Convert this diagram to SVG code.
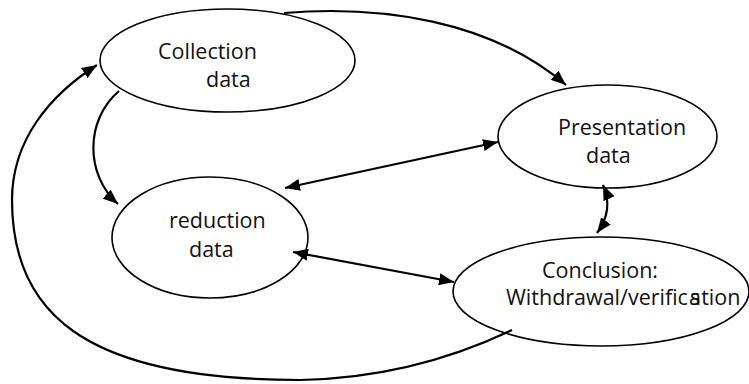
<svg xmlns="http://www.w3.org/2000/svg" width="749" height="384" viewBox="0 0 749 384">
<style>
.node ellipse{fill:none;stroke:#000;stroke-width:1.6}
.lbl{font-family:"Open Sans","Noto Sans",sans-serif;font-size:21.5px;fill:#111}
.conn path{fill:none;stroke:#000;stroke-width:2.2}
</style>
<defs>
<marker id="ah" markerUnits="userSpaceOnUse" markerWidth="15" markerHeight="12" refX="15" refY="6" orient="auto-start-reverse" viewBox="0 0 15 12">
<path d="M0,0 L15,6 L0,12 z" fill="#000"/>
</marker>
</defs>
<rect width="749" height="384" fill="#fff"/>
<g id="collection" class="node">
<ellipse cx="227.5" cy="60.5" rx="127.5" ry="51.5"/>
<text class="lbl" x="158" y="59">Collection</text>
<text class="lbl" x="206" y="87">data</text>
</g>
<g id="presentation" class="node">
<ellipse cx="607.5" cy="136.5" rx="109.5" ry="51.5"/>
<text class="lbl" x="558" y="135">Presentation</text>
<text class="lbl" x="586" y="163">data</text>
</g>
<g id="reduction" class="node">
<ellipse cx="210" cy="237.5" rx="98" ry="60.5"/>
<text class="lbl" x="169" y="228">reduction</text>
<text class="lbl" x="189" y="257">data</text>
</g>
<g id="conclusion" class="node">
<ellipse cx="601" cy="291.5" rx="148" ry="54.5"/>
<text class="lbl" x="542" y="278">Conclusion:</text>
<text class="lbl" x="506" y="305">Withdrawal/verific<tspan dx="1">a</tspan><tspan dx="-11">s</tspan><tspan dx="1">tion</tspan></text>
</g>
<g id="connectors" class="conn">
<path d="M284,13 C380,5 490,20 566,85" marker-end="url(#ah)"/>
<path d="M119,91 C85,120 85,175 118,204" marker-end="url(#ah)"/>
<path d="M512,330 C470,350 400,378 300,380 C80,380 12,310 12,200 C12,140 50,95 97,65" marker-end="url(#ah)"/>
<path d="M285,188 L498,142" marker-start="url(#ah)" marker-end="url(#ah)"/>
<path d="M293,252 L454,282" marker-start="url(#ah)" marker-end="url(#ah)"/>
<path d="M603,185 Q614,210 597,233" marker-start="url(#ah)" marker-end="url(#ah)"/>
</g>
</svg>
